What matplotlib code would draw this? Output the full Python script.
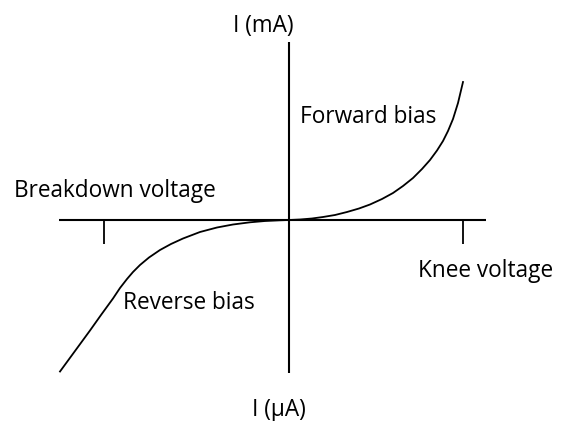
import matplotlib
matplotlib.use("Agg")
import matplotlib.pyplot as plt

# diode I-V sketch, units are arbitrary (origin at the axes crossing)
fwd_v = [0, 11, 23, 34, 46, 58, 70, 81, 93, 104, 114, 124, 133, 141,
         148, 154, 159, 164, 169, 174]
fwd_i = [0, 0.5, 1.5, 3, 5, 8, 11.5, 15.5, 21, 27, 34, 42, 51, 60,
         69.5, 79, 89, 101, 117, 138]

rev_v = [0, -9, -24, -39, -56, -72, -89, -106, -118, -129, -140, -149,
         -156, -162, -169, -176, -188, -199, -214, -229]
rev_i = [0, -0.3, -1, -2.3, -4.5, -7.5, -12, -18.5, -24, -30, -37.5, -45,
         -52, -59, -68, -78.5, -95, -110.5, -131, -151.5]

v_axis = [-230, 197]
i_axis = [-153, 178]
breakdown_v = -185
knee_v = 174
tick_len = 24

plt.rcParams['font.family'] = ['Open Sans', 'DejaVu Sans']

fig = plt.figure(figsize=(5.64, 4.21), dpi=100)
ax = fig.add_axes([0, 0, 1, 1])
ax.set_xlim(-289, 275)
ax.set_ylim(-201, 220)
ax.axis('off')

ax.plot(v_axis, [0, 0], color='black', lw=1.5, solid_capstyle='butt')
ax.plot([0, 0], i_axis, color='black', lw=1.5, solid_capstyle='butt')
for v in (breakdown_v, knee_v):
    ax.plot([v, v], [0, -tick_len], color='black', lw=1.3, solid_capstyle='butt')

ax.plot(fwd_v, fwd_i, color='black', lw=1.3)
ax.plot(rev_v, rev_i, color='black', lw=1.3)

fs = 16.3
ax.text(-26, 188, 'I (mA)', fontsize=fs, ha='center', va='baseline')
ax.text(11, 97, 'Forward bias', fontsize=fs, ha='left', va='baseline')
ax.text(-275, 23, 'Breakdown voltage', fontsize=fs, ha='left', va='baseline')
ax.text(129, -57, 'Knee voltage', fontsize=fs, ha='left', va='baseline')
ax.text(-166, -89, 'Reverse bias', fontsize=fs, ha='left', va='baseline')
ax.text(-10, -196, 'I (µA)', fontsize=fs, ha='center', va='baseline')

fig.savefig('out.png', dpi=100)
